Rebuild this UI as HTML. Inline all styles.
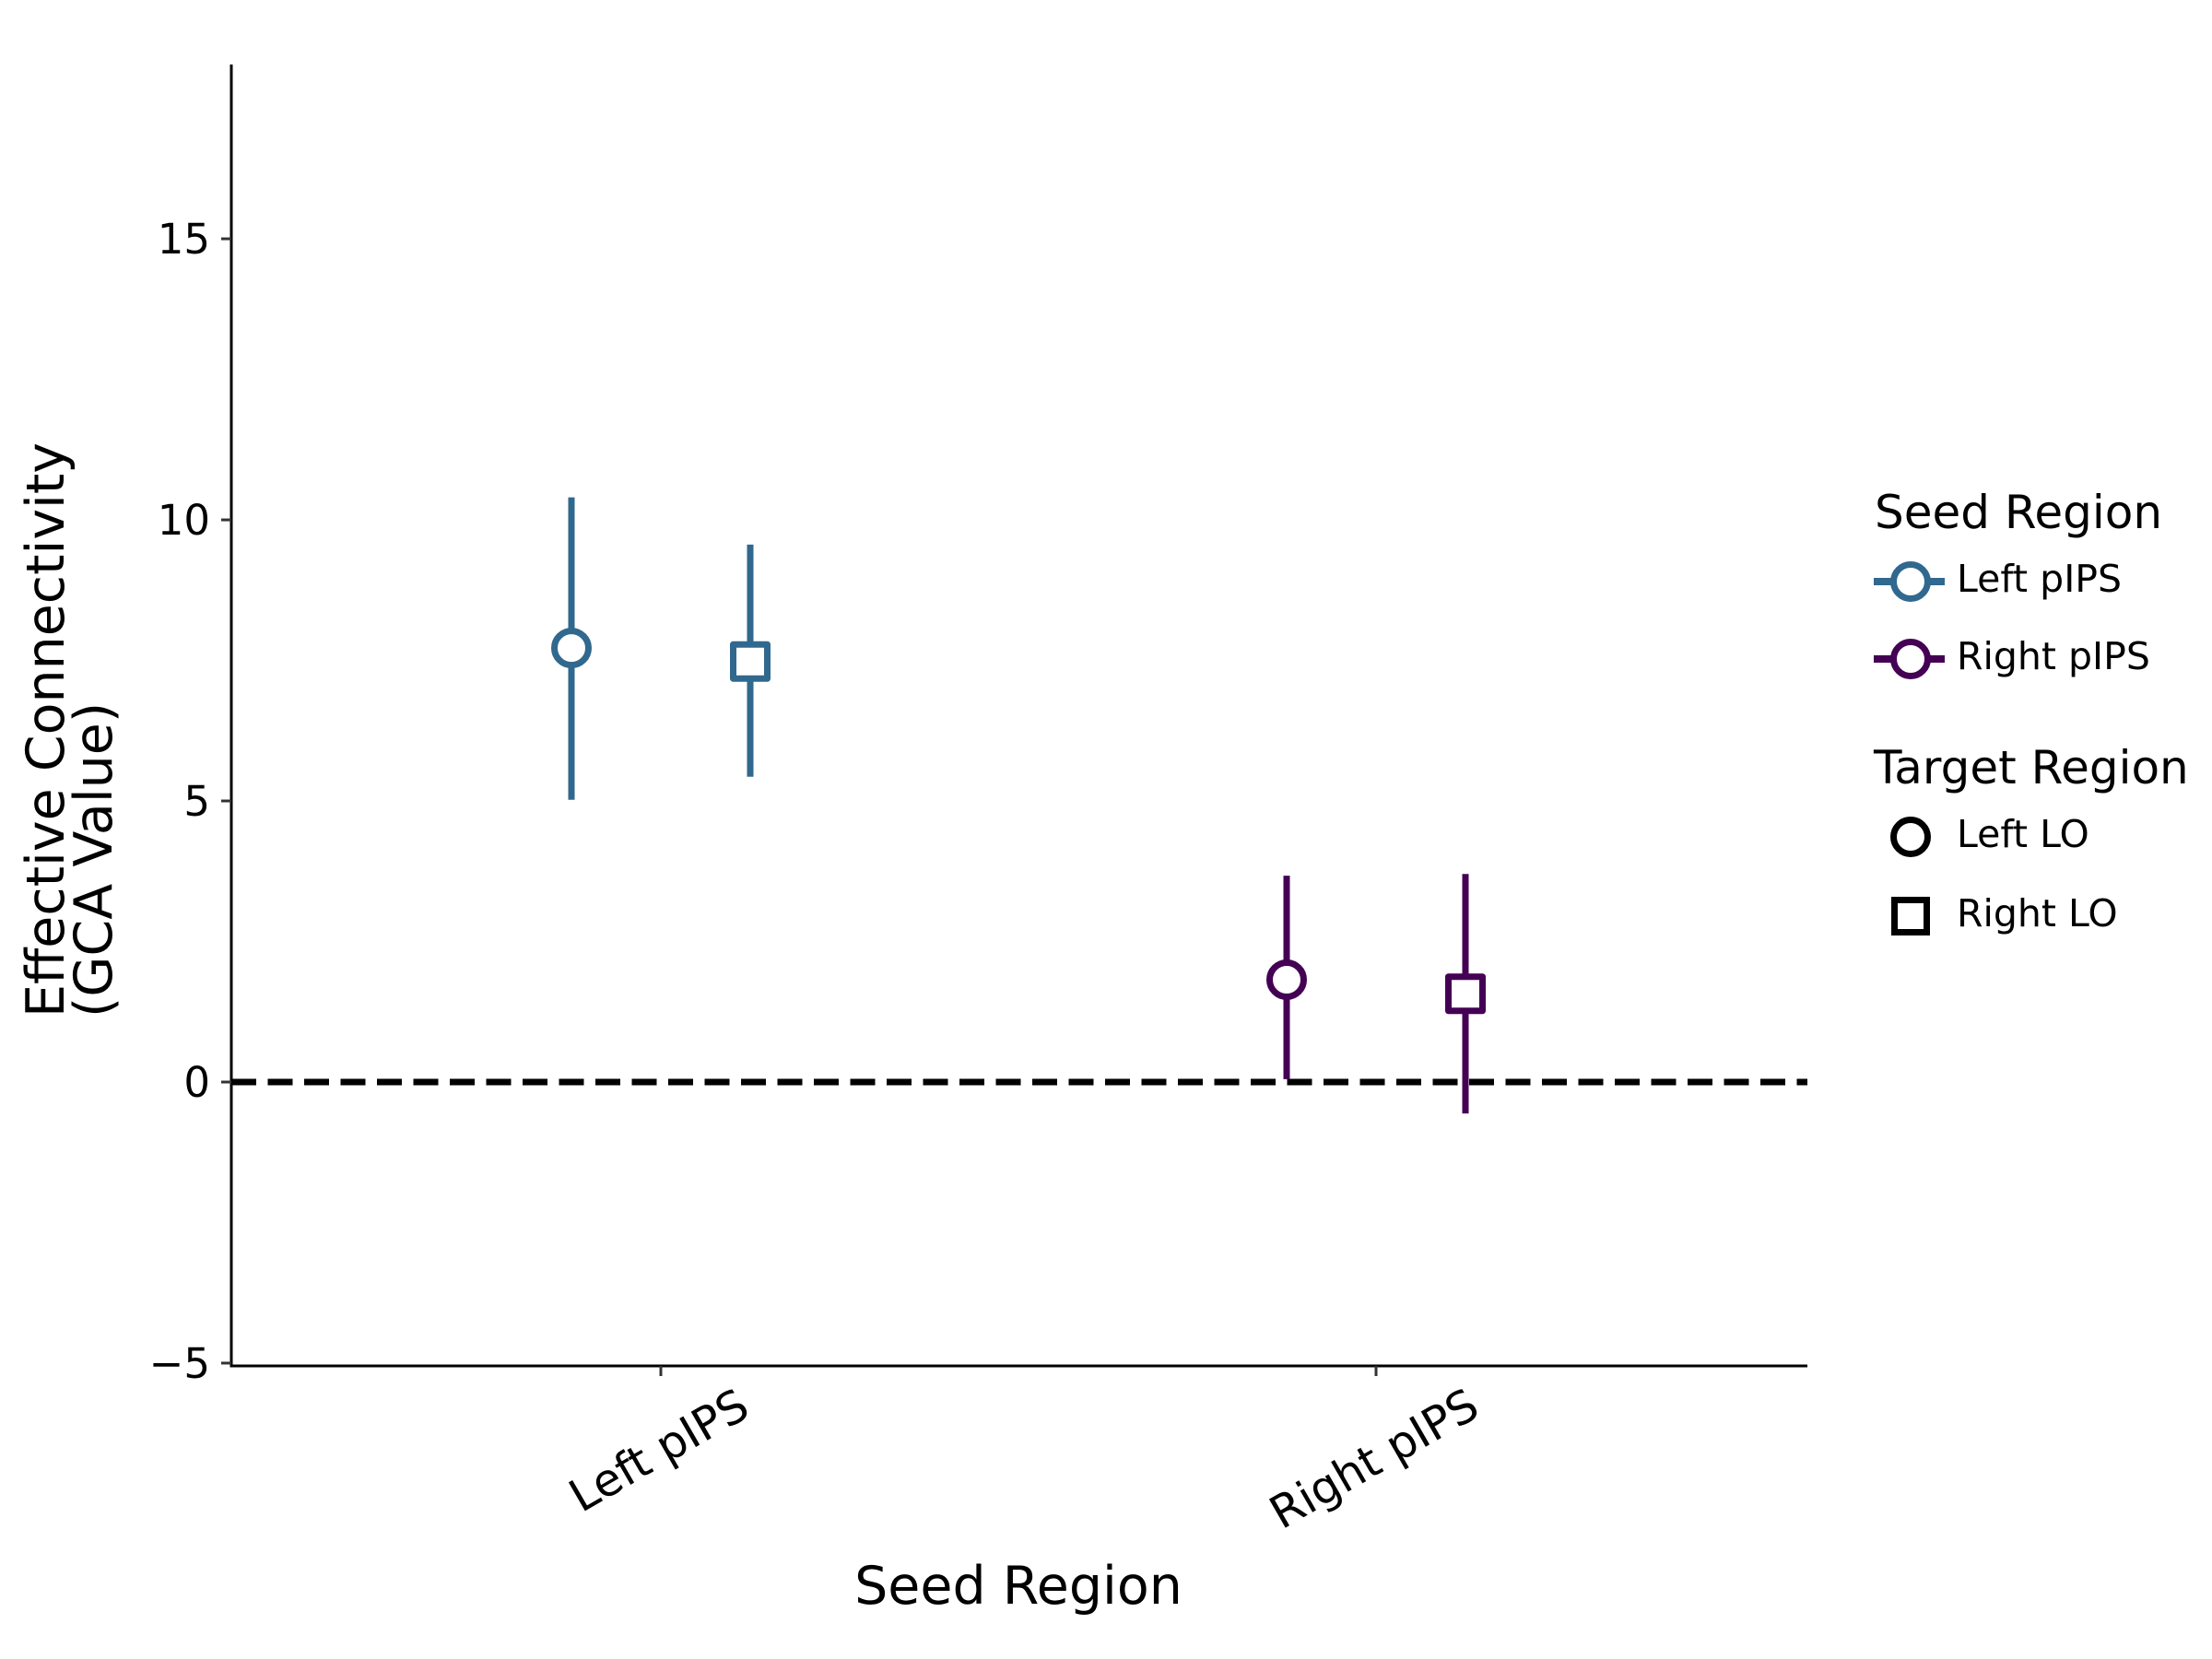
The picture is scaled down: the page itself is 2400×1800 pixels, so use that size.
<!DOCTYPE html>
<html><head><meta charset="utf-8"><style>
html,body{margin:0;padding:0;background:#fff;}
svg{display:block;font-family:"DejaVu Sans","Liberation Sans",sans-serif;}
</style></head><body>
<svg id="chart" width="2400" height="1800" viewBox="0 0 2400 1800" xmlns="http://www.w3.org/2000/svg">
<g id="plot"></g>
<g id="legend"></g>
</svg>
<script>
const categories = ["Left pIPS", "Right pIPS"];
const targets = ["Left LO", "Right LO"];
const seedColors = ["#31688e", "#440154"];
const meanLeftLO = [7.72, 1.82];
const meanRightLO = [7.48, 1.57];
const lowLeftLO = [5.02, 0.05];
const highLeftLO = [10.4, 3.67];
const lowRightLO = [5.43, -0.56];
const highRightLO = [9.56, 3.7];
const yTicks = [-5, 0, 5, 10, 15];
const yTickLabels = ["\u22125", "0", "5", "10", "15"];

const NS = "http://www.w3.org/2000/svg";
const X0 = 251, X1 = 1961, Y0 = 1482, Y1 = 70;
const yMin = -5.05, yMax = 18.1;
function yScale(v){ return Y0 - (v - yMin) / (yMax - yMin) * (Y0 - Y1); }
function xScale(i){ return 717 + i * 776; }
const dodge = 97;
function mk(tag, attrs, parent){ const e = document.createElementNS(NS, tag); for (const k in attrs) e.setAttribute(k, attrs[k]); parent.appendChild(e); return e; }
const plot = document.getElementById('plot');
const legend = document.getElementById('legend');

let zl = mk('line', {x1:X0, x2:X1, y1:yScale(0), y2:yScale(0), stroke:'#000', 'stroke-width':7, 'stroke-dasharray':'27 12.5'}, plot);



let ya = mk('line', {x1:X0, x2:X0, y1:Y1, y2:Y0+1.5, stroke:'#000', 'stroke-width':3}, plot);


let xa = mk('line', {x1:X0-1.5, x2:X1, y1:Y0, y2:Y0, stroke:'#000', 'stroke-width':3}, plot);



yTicks.forEach((v, i) => {
  const y = yScale(v);
  const t = mk('line', {x1:X0-11, x2:X0, y1:y, y2:y, stroke:'#333', 'stroke-width':3}, plot);
  
  
  const l = mk('text', {x:228, y:y+16, 'text-anchor':'end', 'font-size':45, fill:'#000'}, plot);
  l.textContent = yTickLabels[i];
  
  
});

const xLabelY = [1574, 1583];
categories.forEach((c, i) => {
  const x = xScale(i);
  const t = mk('line', {x1:x, x2:x, y1:Y0, y2:Y0+11, stroke:'#333', 'stroke-width':3}, plot);
  
  
  const cx = x - 2;
  const l = mk('text', {x:cx, y:xLabelY[i], 'text-anchor':'middle', 'dominant-baseline':'central', 'font-size':49, fill:'#000', transform:`rotate(-30 ${cx} ${xLabelY[i]})`}, plot);
  l.textContent = c;
  
  
});

categories.forEach((c, i) => {
  const col = seedColors[i];
  const xc = xScale(i) - dodge, xs = xScale(i) + dodge;
  const e1 = mk('line', {x1:xc, x2:xc, y1:yScale(lowLeftLO[i]), y2:yScale(highLeftLO[i]), stroke:col, 'stroke-width':7}, plot);
  
  
  const e2 = mk('line', {x1:xs, x2:xs, y1:yScale(lowRightLO[i]), y2:yScale(highRightLO[i]), stroke:col, 'stroke-width':7}, plot);
  
  
  const m1 = mk('circle', {cx:xc, cy:yScale(meanLeftLO[i]), r:18.5, fill:'#fff', stroke:col, 'stroke-width':7}, plot);
  
  
  const y2 = yScale(meanRightLO[i]);
  const m2 = mk('rect', {x:xs-18.5, y:y2-18.5, width:37, height:37, fill:'#fff', stroke:col, 'stroke-width':7, 'stroke-linejoin':'round'}, plot);
  
  
});

let xt = mk('text', {x:1105, y:1740, 'text-anchor':'middle', 'font-size':57, fill:'#000'}, plot);
xt.textContent = 'Seed Region';


let yt1 = mk('text', {x:0, y:0, 'text-anchor':'start', 'font-size':57, fill:'#000', transform:'translate(69 1104) rotate(-90)'}, plot);
yt1.textContent = 'Effective Connectivity';


let yt2 = mk('text', {x:0, y:0, 'text-anchor':'start', 'font-size':57, fill:'#000', transform:'translate(121 1104) rotate(-90)'}, plot);
yt2.textContent = '(GCA Value)';



let lt1 = mk('text', {x:2034, y:573, 'font-size':50, fill:'#000'}, legend);
lt1.textContent = 'Seed Region';


const seedY = [631, 715];
categories.forEach((c, i) => {
  const g = mk('g', {}, legend);
  
  
  mk('line', {x1:2033, x2:2110, y1:seedY[i], y2:seedY[i], stroke:seedColors[i], 'stroke-width':8}, g);
  mk('circle', {cx:2073, cy:seedY[i], r:18.5, fill:'#fff', stroke:seedColors[i], 'stroke-width':7}, g);
  const t = mk('text', {x:2123, y:seedY[i]+11, 'font-size':41, fill:'#000'}, g);
  t.textContent = c;
});
let lt2 = mk('text', {x:2033, y:850, 'font-size':50, fill:'#000'}, legend);
lt2.textContent = 'Target Region';


const targY = [908, 994];
targets.forEach((c, i) => {
  const g = mk('g', {}, legend);
  
  
  if (i === 0) mk('circle', {cx:2073, cy:targY[i], r:18.5, fill:'#fff', stroke:'#000', 'stroke-width':7}, g);
  else mk('rect', {x:2073-17.5, y:targY[i]-17.5, width:35, height:35, fill:'#fff', stroke:'#000', 'stroke-width':7}, g);
  const t = mk('text', {x:2123, y:targY[i]+11, 'font-size':41, fill:'#000'}, g);
  t.textContent = c;
});
</script>
</body></html>
